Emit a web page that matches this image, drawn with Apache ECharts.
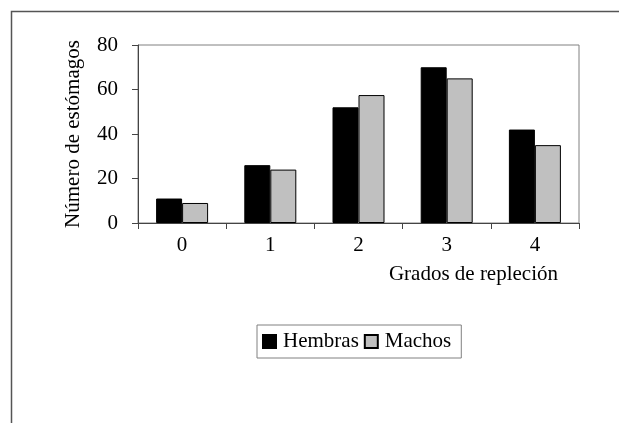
<!DOCTYPE html>
<html><head><meta charset="utf-8">
<script src="https://cdn.jsdelivr.net/npm/echarts@6/dist/echarts.min.js"></script>
<style>html,body{margin:0;padding:0;background:#fff}#c{width:619px;height:423px}</style>
</head><body><div id="c"></div>
<script>
const categories = ['0','1','2','3','4'];
const hembras = [11, 26, 52, 70, 42];
const machos = [9, 24, 57.5, 65, 35];
const yTicks = {min: 0, max: 80, interval: 20};
const font = '"Liberation Serif", "Times New Roman", serif';
const chart = echarts.init(document.getElementById('c'), null, {renderer: 'canvas'});
chart.setOption({
  animation: false,
  backgroundColor: '#fff',
  graphic: [{type: 'polyline', shape: {points: [[11.5, 423], [11.5, 11.5], [619, 11.5]]}, style: {stroke: '#555', lineWidth: 1.5, fill: null}}],
  grid: {left: 138, top: 45, right: 40, bottom: 200, show: true, borderColor: '#808080', borderWidth: 1},
  legend: {
    data: ['Hembras', 'Machos'], left: 257, top: 325, width: 205,
    orient: 'horizontal', itemWidth: 13, itemHeight: 13, itemGap: 5,
    icon: 'rect', borderColor: '#808080', borderWidth: 1, padding: [6, 10, 6, 5],
    textStyle: {fontFamily: font, fontSize: 21, color: '#000', padding: [0, 0, 0, 2]}
  },
  xAxis: {
    type: 'category', data: categories,
    name: 'Grados de repleción', nameLocation: 'end',
    nameGap: 0,
    nameTextStyle: {fontFamily: font, fontSize: 21, color: '#000', align: 'right', verticalAlign: 'top', padding: [41, 21, 0, 0]},
    axisLine: {lineStyle: {color: '#444', width: 1}},
    axisTick: {show: true, alignWithLabel: false, length: 6, lineStyle: {color: '#444'}},
    axisLabel: {fontFamily: font, fontSize: 21, color: '#000', margin: 12}
  },
  yAxis: {
    type: 'value', min: yTicks.min, max: yTicks.max, interval: yTicks.interval,
    name: 'Número de estómagos', nameLocation: 'middle', nameGap: 54,
    nameTextStyle: {fontFamily: font, fontSize: 21, color: '#000'},
    splitLine: {show: false},
    axisLine: {show: true, lineStyle: {color: '#444', width: 1}},
    axisTick: {show: true, length: 6, lineStyle: {color: '#444'}},
    axisLabel: {fontFamily: font, fontSize: 21, color: '#000', margin: 20}
  },
  series: [
    {name: 'Hembras', type: 'bar', data: hembras, barWidth: 26, barGap: '0%',
     itemStyle: {color: '#000', borderColor: '#000', borderWidth: 1}},
    {name: 'Machos', type: 'bar', data: machos, barWidth: 26, barGap: '0%',
     itemStyle: {color: '#c0c0c0', borderColor: '#000', borderWidth: 1}}
  ]
});
</script></body></html>
